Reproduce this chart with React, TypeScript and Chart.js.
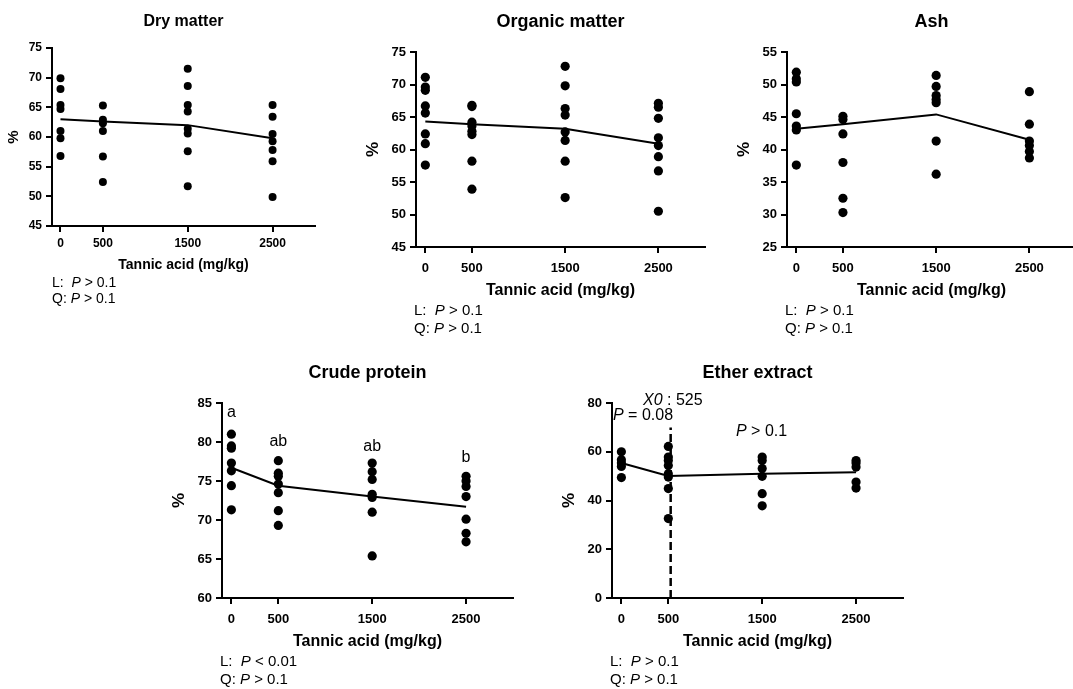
import React, { useEffect, useRef } from "react";
import { Chart, registerables } from "chart.js";

Chart.register(...registerables);

const FONT = "'Liberation Sans', Arial, Helvetica, sans-serif";

// ---- data ----
const doses = [0, 500, 1500, 2500];
const xTickValues = [0, 500, 1500, 2500];

const dryMatter = [
  [69.9, 68.1, 65.4, 64.7, 61.0, 59.8, 56.8],
  [65.3, 62.9, 62.3, 61.0, 56.7, 52.4],
  [71.5, 68.6, 65.4, 64.3, 61.4, 60.6, 57.6, 51.7],
  [65.4, 63.4, 60.5, 59.3, 57.8, 55.9, 49.9],
];
const dryMatterMean = [63.0, 62.6, 62.0, 59.8];

const organicMatter = [
  [71.1, 69.6, 69.1, 66.7, 65.6, 62.4, 60.9, 57.6],
  [66.8, 66.6, 64.2, 63.6, 62.8, 62.3, 58.2, 53.9],
  [72.8, 69.8, 66.3, 65.3, 62.7, 61.4, 58.2, 52.6],
  [67.1, 66.5, 64.8, 61.8, 60.6, 58.9, 56.7, 50.5],
];
const organicMatterMean = [64.3, 63.9, 63.2, 60.9];

const ash = [
  [51.9, 50.9, 50.4, 45.5, 43.6, 43.0, 37.6],
  [45.1, 44.6, 42.4, 38.0, 32.5, 30.3],
  [51.4, 49.7, 48.3, 47.7, 47.2, 41.3, 36.2],
  [48.9, 43.9, 41.3, 40.6, 39.7, 38.7],
];
const ashMean = [43.2, 43.9, 45.4, 41.5];

const crudeProtein = [
  [81.0, 79.5, 79.2, 77.3, 76.3, 74.4, 71.3],
  [77.6, 76.0, 75.6, 74.6, 73.5, 71.2, 69.3],
  [77.3, 76.2, 75.2, 73.3, 72.9, 71.0, 65.4],
  [75.6, 75.0, 74.3, 73.0, 70.1, 68.3, 67.2],
];
const crudeProteinMean = [76.7, 74.4, 73.0, 71.7];
const crudeProteinLetters = ["a", "ab", "ab", "b"];
const crudeProteinLetterY = [83.2, 79.5, 78.8, 77.5];

const etherExtract = [
  [60.0, 56.7, 55.4, 54.0, 49.4],
  [62.2, 57.8, 56.4, 54.4, 51.0, 49.6, 44.9, 32.6],
  [57.8, 56.4, 53.1, 49.9, 42.8, 37.8],
  [56.4, 55.4, 53.7, 47.6, 45.1],
];
const etherExtractMean = [55.4, 50.1, 51.0, 51.6];
const breakPointX = 525;
const breakPointLine = [0, 70];

type Run = [string, boolean];

type PanelDef = {
  title: string;
  values: number[][];
  means: number[];
  yMin: number;
  yMax: number;
  yStep: number;
  rect: { left: number; top: number; right: number; bottom: number };
  small: boolean;
  lLine: Run[];
  qLine: Run[];
  letters?: string[];
  letterY?: number[];
  ether?: boolean;
};

const pGt: Run[] = [["L:  ", false], ["P", true], [" > 0.1", false]];
const qGt: Run[] = [["Q: ", false], ["P", true], [" > 0.1", false]];

const panels: PanelDef[] = [
  {
    title: "Dry matter", values: dryMatter, means: dryMatterMean,
    yMin: 45, yMax: 75, yStep: 5,
    rect: { left: 52, top: 48, right: 315, bottom: 226 }, small: true,
    lLine: pGt, qLine: qGt,
  },
  {
    title: "Organic matter", values: organicMatter, means: organicMatterMean,
    yMin: 45, yMax: 75, yStep: 5,
    rect: { left: 416, top: 52, right: 705, bottom: 247 }, small: false,
    lLine: pGt, qLine: qGt,
  },
  {
    title: "Ash", values: ash, means: ashMean,
    yMin: 25, yMax: 55, yStep: 5,
    rect: { left: 787, top: 52, right: 1076, bottom: 247 }, small: false,
    lLine: pGt, qLine: qGt,
  },
  {
    title: "Crude protein", values: crudeProtein, means: crudeProteinMean,
    yMin: 60, yMax: 85, yStep: 5,
    rect: { left: 222, top: 403, right: 513, bottom: 598 }, small: false,
    lLine: [["L:  ", false], ["P", true], [" < 0.01", false]], qLine: qGt,
    letters: crudeProteinLetters, letterY: crudeProteinLetterY,
  },
  {
    title: "Ether extract", values: etherExtract, means: etherExtractMean,
    yMin: 0, yMax: 80, yStep: 20,
    rect: { left: 612, top: 403, right: 903, bottom: 598 }, small: false,
    lLine: pGt, qLine: qGt, ether: true,
  },
];

const ML = 60, MT = 45, MR = 10, MB = 100;
const YW = 50, XH = 30;

function drawRuns(ctx: CanvasRenderingContext2D, x: number, y: number, runs: Run[], size: number, weight = "normal") {
  let cx = x;
  ctx.textAlign = "left";
  ctx.textBaseline = "alphabetic";
  for (const [t, it] of runs) {
    ctx.font = `${it ? "italic " : ""}${weight} ${size}px ${FONT}`;
    ctx.fillText(t, cx, y);
    cx += ctx.measureText(t).width;
  }
}

function Panel({ def }: { def: PanelDef }) {
  const ref = useRef<HTMLCanvasElement | null>(null);
  const r = def.rect;
  const width = r.right - r.left + ML + MR;
  const height = r.bottom - r.top + MT + MB;

  useEffect(() => {
    const canvas = ref.current;
    if (!canvas) return;
    const sm = def.small;
    const sz = sm
      ? { tick: 12, title: 16, axis: 14, lq: 14, pct: 15, rad: 4.0, xpad: 4 }
      : { tick: 13, title: 18, axis: 16, lq: 15, pct: 17, rad: 4.6, xpad: 8 };
    const off = sm
      ? { title: 22, pct: 38, axis: 43, l: 61, q: 77, lx: 0 }
      : { title: 25, pct: 43, axis: 48, l: 68, q: 86, lx: -2 };

    const pointData: { x: number; y: number }[] = [];
    def.values.forEach((arr, i) => arr.forEach((v) => pointData.push({ x: doses[i], y: v })));
    const meanData = def.means.map((m, i) => ({ x: doses[i], y: m }));

    const datasets: any[] = [
      {
        type: "scatter",
        data: pointData,
        pointRadius: sz.rad,
        pointBackgroundColor: "#000",
        pointBorderWidth: 0,
        pointBorderColor: "#000",
        order: 2,
      },
      {
        type: "line",
        data: meanData,
        borderColor: "#000",
        borderWidth: 2,
        pointRadius: 0,
        tension: 0,
        fill: false,
        order: 1,
      },
    ];
    if (def.ether) {
      datasets.push({
        type: "line",
        data: breakPointLine.map((v) => ({ x: breakPointX, y: v })),
        borderColor: "#000",
        borderWidth: 2.5,
        borderDash: [8, 4],
        pointRadius: 0,
        fill: false,
        order: 0,
      });
    }

    const textPlugin = {
      id: "panelText",
      afterDraw(chart: any) {
        const ctx: CanvasRenderingContext2D = chart.ctx;
        const a = chart.chartArea;
        const cx = (a.left + a.right) / 2;
        ctx.save();
        ctx.fillStyle = "#000";
        ctx.font = `bold ${sz.title}px ${FONT}`;
        ctx.textAlign = "center";
        ctx.textBaseline = "alphabetic";
        ctx.fillText(def.title, cx, a.top - off.title);
        ctx.font = `bold ${sz.axis}px ${FONT}`;
        ctx.fillText("Tannic acid (mg/kg)", cx, a.bottom + off.axis);
        ctx.save();
        ctx.translate(a.left - off.pct, (a.top + a.bottom) / 2);
        ctx.rotate(-Math.PI / 2);
        ctx.font = `bold ${sz.pct}px ${FONT}`;
        ctx.textAlign = "center";
        ctx.textBaseline = "middle";
        ctx.fillText("%", 0, 0);
        ctx.restore();
        drawRuns(ctx, a.left + off.lx, a.bottom + off.l, def.lLine, sz.lq);
        drawRuns(ctx, a.left + off.lx, a.bottom + off.q, def.qLine, sz.lq);
        if (def.letters && def.letterY) {
          ctx.font = `16px ${FONT}`;
          ctx.textAlign = "center";
          ctx.textBaseline = "alphabetic";
          def.letters.forEach((t, i) => {
            const px = chart.scales.x.getPixelForValue(doses[i]);
            const py = chart.scales.y.getPixelForValue(def.letterY![i]);
            ctx.fillText(t, px, py);
          });
        }
        if (def.ether) {
          drawRuns(ctx, a.left + 31, a.top + 1.5, [["X0", true], [" : 525", false]], 16);
          drawRuns(ctx, a.left + 1, a.top + 16.5, [["P", true], [" = 0.08", false]], 16);
          drawRuns(ctx, a.left + 124, a.top + 32.5, [["P", true], [" > 0.1", false]], 16);
        }
        ctx.restore();
      },
    };

    const tickFont = { family: FONT, size: sz.tick, weight: "bold" as const };
    const chart = new Chart(canvas, {
      type: "scatter",
      data: { datasets },
      options: {
        responsive: false,
        maintainAspectRatio: false,
        animation: false,
        layout: { padding: { left: ML - YW, top: MT, right: MR, bottom: MB - XH } },
        plugins: {
          legend: { display: false },
          tooltip: { enabled: false },
          title: { display: false },
        },
        scales: {
          x: {
            type: "linear",
            min: -100,
            max: 3000,
            afterBuildTicks: (s: any) => {
              s.ticks = xTickValues.map((v) => ({ value: v }));
            },
            afterFit: (s: any) => {
              s.height = XH;
            },
            grid: { drawOnChartArea: false, drawTicks: true, tickLength: 6, color: "#000", lineWidth: 2 },
            border: { display: true, color: "#000", width: 2 },
            ticks: {
              color: "#000", font: tickFont, padding: sz.xpad, maxRotation: 0, autoSkip: false,
              callback: (v: any) => String(v),
            },
          },
          y: {
            type: "linear",
            min: def.yMin,
            max: def.yMax,
            afterFit: (s: any) => {
              s.width = YW;
            },
            grid: { drawOnChartArea: false, drawTicks: true, tickLength: 6, color: "#000", lineWidth: 2 },
            border: { display: true, color: "#000", width: 2 },
            ticks: { color: "#000", font: tickFont, padding: 4, stepSize: def.yStep, callback: (v: any) => String(v) },
          },
        },
      } as any,
      plugins: [textPlugin],
    });
    return () => chart.destroy();
  }, [def]);

  return (
    <canvas
      ref={ref}
      width={width}
      height={height}
      style={{
        position: "absolute",
        left: r.left - ML,
        top: r.top - MT,
        width,
        height,
      }}
    />
  );
}

export default function App() {
  return (
    <div
      style={{
        position: "fixed",
        left: 0,
        top: 0,
        width: 1073,
        height: 689,
        overflow: "hidden",
        background: "#fff",
      }}
    >
      {panels.map((p, i) => (
        <Panel key={i} def={p} />
      ))}
    </div>
  );
}
